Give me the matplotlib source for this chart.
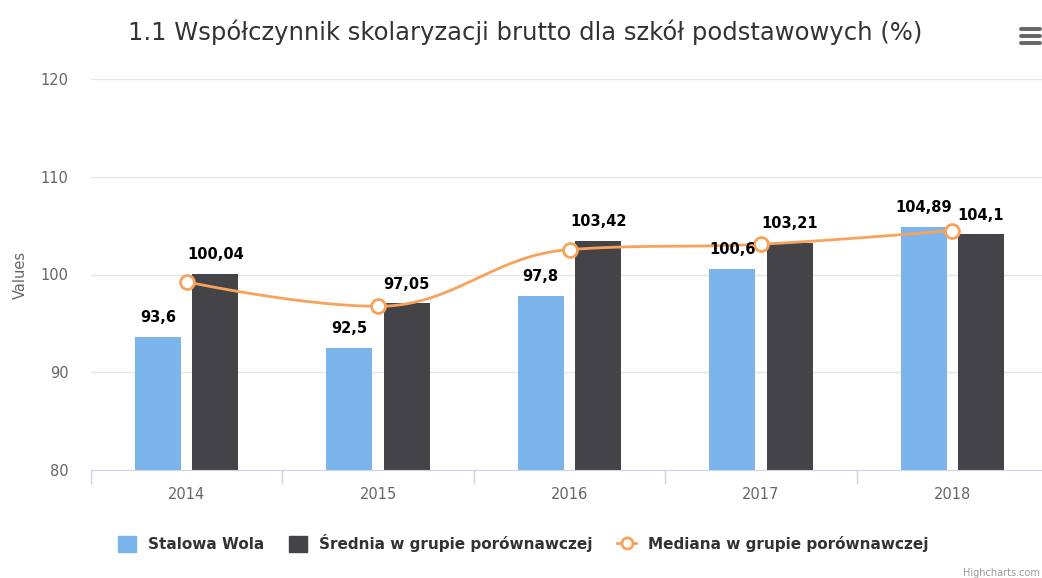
import matplotlib
matplotlib.use("Agg")
import matplotlib.pyplot as plt
from matplotlib.lines import Line2D
from matplotlib.patches import Patch
import numpy as np

plt.rcParams['font.family'] = ['DejaVu Sans']

# %% data
years = ["2014", "2015", "2016", "2017", "2018"]
stalowa_wola = [93.6, 92.5, 97.8, 100.6, 104.89]
srednia = [100.04, 97.05, 103.42, 103.21, 104.1]
mediana = [99.25, 96.75, 102.55, 103.1, 104.5]
yticks = [80, 90, 100, 110, 120]

title = "1.1 Współczynnik skolaryzacji brutto dla szkół podstawowych (%)"
series_names = ["Stalowa Wola", "Średnia w grupie porównawczej", "Mediana w grupie porównawczej"]

c_blue = "#7cb5ec"
c_dark = "#434348"
c_orange = "#f7a35c"


def spline_path(xs, ys, smoothing=1.5, steps=40):
    # highcharts-style spline control points
    n = len(xs)
    denom = smoothing + 1
    lc = [(xs[0], ys[0])] * n
    rc = [(xs[0], ys[0])] * n
    for i in range(n):
        if 0 < i < n - 1:
            lx, ly = xs[i - 1], ys[i - 1]
            nx, ny = xs[i + 1], ys[i + 1]
            lcx = (smoothing * xs[i] + lx) / denom
            lcy = (smoothing * ys[i] + ly) / denom
            rcx = (smoothing * xs[i] + nx) / denom
            rcy = (smoothing * ys[i] + ny) / denom
            corr = ((rcy - lcy) * (rcx - xs[i])) / (rcx - lcx) + ys[i] - rcy
            lcy += corr
            rcy += corr
            if lcy > ly and lcy > ys[i]:
                lcy = max(ly, ys[i]); rcy = 2 * ys[i] - lcy
            elif lcy < ly and lcy < ys[i]:
                lcy = min(ly, ys[i]); rcy = 2 * ys[i] - lcy
            if rcy > ny and rcy > ys[i]:
                rcy = max(ny, ys[i]); lcy = 2 * ys[i] - rcy
            elif rcy < ny and rcy < ys[i]:
                rcy = min(ny, ys[i]); lcy = 2 * ys[i] - rcy
            lc[i] = (lcx, lcy)
            rc[i] = (rcx, rcy)
        else:
            lc[i] = (xs[i], ys[i])
            rc[i] = (xs[i], ys[i])
    px, py = [], []
    t = np.linspace(0, 1, steps)
    for i in range(n - 1):
        p0 = np.array([xs[i], ys[i]])
        p1 = np.array(rc[i])
        p2 = np.array(lc[i + 1])
        p3 = np.array([xs[i + 1], ys[i + 1]])
        seg = ((1 - t) ** 3)[:, None] * p0 + (3 * (1 - t) ** 2 * t)[:, None] * p1 \
            + (3 * (1 - t) * t ** 2)[:, None] * p2 + (t ** 3)[:, None] * p3
        px.extend(seg[:, 0]); py.extend(seg[:, 1])
    return px, py


# %% plot
fig = plt.figure(figsize=(10.42, 5.78), dpi=100)
ax = fig.add_axes([91 / 1042, 1 - 470 / 578, 957 / 1042, 391 / 578])

x = np.arange(len(years))
w = 0.24
off = 0.15
ax.bar(x - off, stalowa_wola, w, color=c_blue, zorder=2)
ax.bar(x + off, srednia, w, color=c_dark, zorder=2)

sx, sy = spline_path(list(x.astype(float)), mediana)
ax.plot(sx, sy, color=c_orange, lw=2, zorder=3, solid_capstyle='round')
ax.plot(x, mediana, 'o', ms=10, mfc='white', mec=c_orange, mew=2, zorder=4)

for xi, v in zip(x, stalowa_wola):
    ax.annotate(f"{v:g}".replace(".", ","), (xi - off, v), xytext=(0, 8.5), textcoords="offset points",
                ha="center", va="bottom", fontsize=10.5, fontweight="bold", color="black", zorder=5)
for xi, v in zip(x, srednia):
    ax.annotate(f"{v:g}".replace(".", ","), (xi + off, v), xytext=(0, 8.5), textcoords="offset points",
                ha="center", va="bottom", fontsize=10.5, fontweight="bold", color="black", zorder=5)

ax.set_xlim(-0.5, len(years) - 0.5)
ax.set_ylim(80, 120)
ax.set_yticks(yticks)
ax.set_yticklabels([str(t) for t in yticks])
ax.set_xticks(x)
ax.set_xticklabels(years)
ax.set_xticks(np.arange(-0.5, len(years)), minor=True)
ax.tick_params(axis='x', which='major', length=0, pad=12, labelsize=10.5, labelcolor="#666666")
ax.tick_params(axis='x', which='minor', length=10, color="#ccd6eb", width=1)
ax.tick_params(axis='y', length=0, pad=16, labelsize=10.5, labelcolor="#666666")
ax.grid(axis='y', color="#e6e6e6", lw=1, zorder=0)
ax.set_axisbelow(True)
for s in ["top", "right", "left"]:
    ax.spines[s].set_visible(False)
ax.spines["bottom"].set_color("#ccd6eb")
ax.set_ylabel("Values", color="#666666", fontsize=10.5, labelpad=9)

fig.text(525 / 1042, 1 - 32 / 578, title, ha="center", va="center", fontsize=17.5, color="#333333")

# menu icon
for yy in [29, 36, 43]:
    fig.add_artist(Line2D([1021 / 1042, 1040 / 1042], [1 - yy / 578, 1 - yy / 578],
                          color="#666666", lw=2.8, solid_capstyle='round'))

handles = [Patch(color=c_blue), Patch(color=c_dark),
           Line2D([], [], color=c_orange, lw=2, marker='o', ms=8, mfc='white', mec=c_orange, mew=2)]
leg = fig.legend(handles, series_names, loc="center", bbox_to_anchor=(523 / 1042, 1 - 543 / 578),
                 ncol=3, frameon=False, handlelength=1.2, handleheight=1.2, columnspacing=1.6,
                 handletextpad=0.8, prop={'size': 11, 'weight': 'bold'})
for t in leg.get_texts():
    t.set_color("#333333")

fig.text(1040 / 1042, 1 - 573 / 578, "Highcharts.com", ha="right", va="center", fontsize=7, color="#999999")

fig.savefig("out.png", dpi=100)
